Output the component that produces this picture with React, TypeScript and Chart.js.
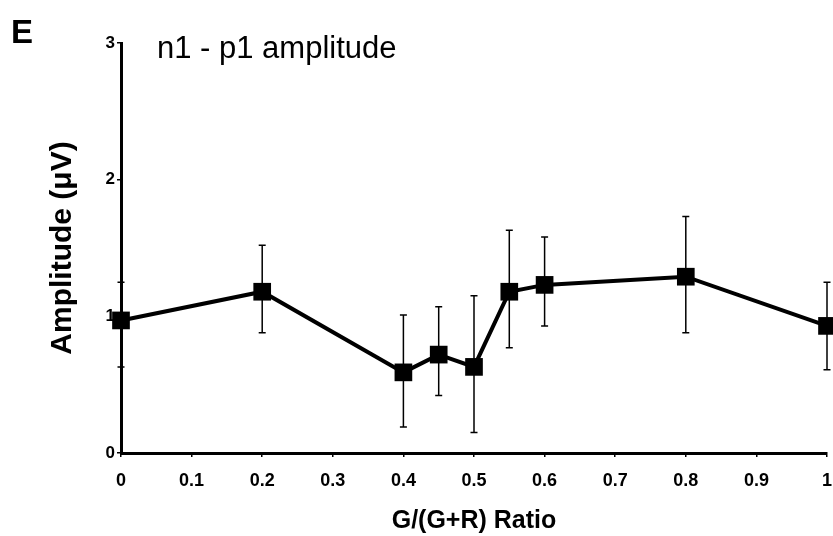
import React, { useEffect, useRef } from "react";
import { Chart, registerables } from "chart.js";

Chart.register(...registerables);

const ratios = [0, 0.2, 0.4, 0.45, 0.5, 0.55, 0.6, 0.8, 1];
const amplitudes = [0.97, 1.18, 0.59, 0.72, 0.63, 1.18, 1.23, 1.29, 0.93];
const errorHigh = [1.25, 1.52, 1.01, 1.07, 1.15, 1.63, 1.58, 1.73, 1.25];
const errorLow = [0.63, 0.88, 0.19, 0.42, 0.15, 0.77, 0.93, 0.88, 0.61];
const xTickLabels = ["0", "0.1", "0.2", "0.3", "0.4", "0.5", "0.6", "0.7", "0.8", "0.9", "1"];
const yTickLabels = ["0", "1", "2", "3"];
const panelLabel = "E";
const subtitle = "n1 - p1 amplitude";
const xTitle = "G/(G+R) Ratio";
const yTitle = "Amplitude (μV)";

const FONT = "'Liberation Sans', Arial, Helvetica, sans-serif";

const errorBarPlugin = {
  id: "errorBars",
  beforeDatasetsDraw(chart: any) {
    const { ctx } = chart;
    const xs = chart.scales.x;
    const ys = chart.scales.y;
    ctx.save();
    ctx.strokeStyle = "#000";
    ctx.lineWidth = 1.5;
    for (let i = 0; i < ratios.length; i++) {
      const px = xs.getPixelForValue(ratios[i]);
      const top = ys.getPixelForValue(errorHigh[i]);
      const bot = ys.getPixelForValue(errorLow[i]);
      ctx.beginPath();
      ctx.moveTo(px, top);
      ctx.lineTo(px, bot);
      ctx.moveTo(px - 3.5, top);
      ctx.lineTo(px + 3.5, top);
      ctx.moveTo(px - 3.5, bot);
      ctx.lineTo(px + 3.5, bot);
      ctx.stroke();
    }
    ctx.restore();
  },
};

const textPlugin = {
  id: "panelText",
  afterDraw(chart: any) {
    const { ctx } = chart;
    ctx.save();
    ctx.fillStyle = "#000";
    ctx.textBaseline = "alphabetic";
    ctx.textAlign = "left";
    ctx.font = `bold 33px ${FONT}`;
    ctx.fillText(panelLabel, 11, 43);
    ctx.font = `31px ${FONT}`;
    ctx.fillText(subtitle, 157, 58);
    ctx.restore();
  },
};

export default function App() {
  const ref = useRef<HTMLCanvasElement | null>(null);
  useEffect(() => {
    if (!ref.current) return;
    const chart = new Chart(ref.current, {
      type: "line",
      data: {
        datasets: [
          {
            data: ratios.map((x, i) => ({ x, y: amplitudes[i] })),
            borderColor: "#000",
            backgroundColor: "#000",
            borderWidth: 4,
            pointStyle: "rect",
            pointRadius: 12.5,
            pointBorderWidth: 0,
            pointBackgroundColor: "#000",
            tension: 0,
            clip: false,
          } as any,
        ],
      },
      options: {
        animation: false,
        responsive: false,
        maintainAspectRatio: false,
        layout: { autoPadding: false, padding: { top: 43, right: 6, left: 0, bottom: 0 } },
        plugins: {
          legend: { display: false },
          tooltip: { enabled: false },
          title: { display: false },
        },
        scales: {
          x: {
            type: "linear",
            min: 0,
            max: 1,
            afterFit: (s: any) => {
              s.height = 83;
              s.paddingLeft = 0;
              s.paddingRight = 0;
            },
            afterBuildTicks: (s: any) => {
              s.ticks = xTickLabels.map((l) => ({ value: parseFloat(l) }));
            },
            ticks: {
              color: "#000",
              font: { family: FONT, size: 18, weight: "bold" },
              padding: 13,
              maxRotation: 0,
              autoSkip: false,
              callback: (_v: any, i: number) => xTickLabels[i],
            },
            grid: {
              drawOnChartArea: false,
              drawTicks: true,
              tickLength: 4,
              color: "#000",
              lineWidth: 1.5,
            },
            border: { display: true, color: "#000", width: 3 },
            title: {
              display: true,
              text: xTitle,
              color: "#000",
              font: { family: FONT, size: 25, weight: "bold", lineHeight: 1.2 },
              padding: { top: 0, bottom: 0 },
            },
          },
          y: {
            type: "linear",
            min: 0,
            max: 3,
            afterFit: (s: any) => {
              s.width = 121;
              s.paddingTop = 0;
              s.paddingBottom = 0;
            },
            afterBuildTicks: (s: any) => {
              s.ticks = yTickLabels.map((l) => ({ value: parseFloat(l) }));
            },
            ticks: {
              color: "#000",
              font: { family: FONT, size: 17, weight: "bold" },
              padding: 2,
              callback: (_v: any, i: number) => yTickLabels[i],
            },
            grid: {
              drawOnChartArea: false,
              drawTicks: true,
              tickLength: 4,
              color: "#000",
              lineWidth: 1.5,
            },
            border: { display: true, color: "#000", width: 3 },
            title: {
              display: true,
              text: yTitle,
              color: "#000",
              font: { family: FONT, size: 30, weight: "bold", lineHeight: 1.2 },
              padding: { top: 45, bottom: 0 },
            },
          },
        },
      },
      plugins: [errorBarPlugin, textPlugin],
    });
    return () => chart.destroy();
  }, []);
  return (
    <div style={{ position: "fixed", left: 0, top: 0, width: 833, height: 536, background: "#fff" }}>
      <canvas ref={ref} width={833} height={536} style={{ display: "block" }} />
    </div>
  );
}
